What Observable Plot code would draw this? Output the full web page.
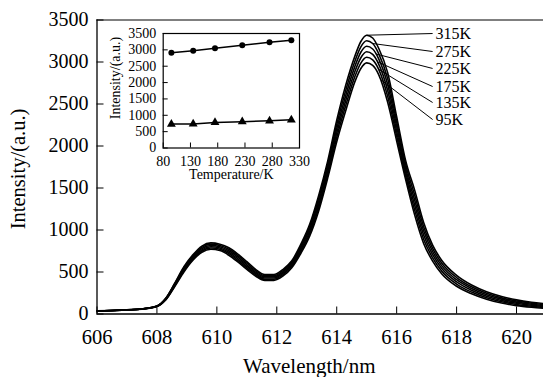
<!DOCTYPE html>
<html><head><meta charset="utf-8">
<script src="https://cdn.jsdelivr.net/npm/d3@7"></script>
<script src="https://cdn.jsdelivr.net/npm/@observablehq/plot@0.6"></script>
<style>
body{margin:0;background:#fff;}
#wrap{position:relative;width:543px;height:377px;background:#fff;overflow:hidden;}
#inset{position:absolute;left:100px;top:20px;}
svg{font-family:"Liberation Serif","Times New Roman",serif;}
</style></head><body><div id="wrap"><div id="main"></div><div id="inset"></div></div>
<script>
// ---- main spectra data ----
const wavelengths = [606,606.5,607,607.5,608,608.3,608.6,608.9,609.2,609.5,609.8,610.1,610.4,610.7,611,611.3,611.6,611.9,612.2,612.5,612.8,613.1,613.4,613.7,614,614.3,614.6,614.8,615,615.2,615.4,615.7,616,616.3,616.6,616.9,617.2,617.5,618,618.5,619,619.5,620,620.5,621];
const s95  = [35,40,48,58,90,170,330,500,640,735,770,755,700,620,530,450,400,400,450,550,720,930,1230,1620,2050,2420,2760,2920,2990,2960,2850,2520,2060,1600,1180,840,630,480,330,240,175,130,100,80,65];
const s135 = [35,40,48,59,91,174,338,513,653,750,785,770,718,639,549,466,414,414,466,567,742,958,1267,1661,2101,2481,2821,2984,3056,3025,2913,2591,2118,1645,1239,890,668,512,356,261,193,146,114,92,76];
const s175 = [36,41,49,59,92,179,347,525,666,764,801,785,735,657,567,482,428,428,482,583,763,986,1304,1701,2153,2541,2881,3048,3122,3090,2975,2661,2175,1690,1298,940,706,544,382,282,211,161,127,104,87];
const s225 = [36,41,49,60,93,183,355,538,678,779,816,800,753,676,586,497,442,442,497,600,785,1014,1341,1742,2204,2602,2942,3113,3187,3155,3038,2732,2233,1734,1357,990,744,576,408,303,229,177,141,116,98];
const s275 = [36,42,50,60,94,187,363,550,691,794,832,815,770,694,604,513,456,456,513,616,806,1042,1378,1782,2255,2662,3003,3177,3253,3220,3100,2802,2291,1779,1416,1040,782,608,434,324,247,192,154,128,109];
const s315 = [37,42,50,61,95,191,371,563,704,809,847,831,788,713,623,529,470,470,529,633,828,1070,1415,1823,2306,2723,3064,3241,3319,3286,3164,2873,2348,1824,1475,1090,820,640,460,345,265,208,168,140,120];
const temps = ["95K","135K","175K","225K","275K","315K"];
const xTicks = [606,608,610,612,614,616,618,620];
const yTicks = [0,500,1000,1500,2000,2500,3000,3500];
// leader lines for temperature labels
const labelStartWl  = [615.45,615.4,615.35,615.3,615.2,615.0];
const labelStartVal = [2795,2913,3004,3096,3220,3319];
const labelEndWl = 617.2;
const labelTextWl = 617.3;
const labelVal = [2315,2518,2708,2923,3125,3339];

// ---- inset data ----
const insetT = [95,135,175,225,275,315];
const insetCircle = [2910,2970,3050,3140,3230,3290];
const insetTriangle = [730,735,780,805,830,860];
const insetXTicks = [80,130,180,230,280,330];
const insetYTicks = [0,500,1000,1500,2000,2500,3000,3500];

const series = [s95,s135,s175,s225,s275,s315];
const rows = [];
temps.forEach((t,j)=>wavelengths.forEach((w,i)=>rows.push({t, w, v: series[j][i]})));

const fmt = d => String(d);
const W = 543, H = 377, ML = 96.5, MR = 0, MT = 19.5, MB = 63.5;
const innerW = W - ML - MR, innerH = H - MT - MB;

const main = Plot.plot({
  width: W, height: H,
  marginLeft: ML, marginRight: MR, marginTop: MT, marginBottom: MB,
  style: {fontFamily: "Liberation Serif, Times New Roman, serif", fontSize: "20px", color: "#000", background: "#fff", overflow: "visible"},
  x: {domain: [606, 620.9]},
  y: {domain: [0, 3500]},
  marks: [
    Plot.line(rows, {x: "w", y: "v", z: "t", stroke: "#000", strokeWidth: 1.6, curve: "monotone-x", clip: true}),
    Plot.ruleY([3500], {stroke: "#000"}),
    Plot.ruleY([0], {stroke: "#000", strokeWidth: 1.3}),
    Plot.ruleX([606], {stroke: "#000", strokeWidth: 1.3}),
    Plot.tickX(xTicks, {x: d => d, insetTop: innerH - 7, stroke: "#000"}),
    Plot.tickY(yTicks, {y: d => d, insetRight: innerW - 7, stroke: "#000"}),
    Plot.axisX(xTicks, {tickSize: 0, tickPadding: 15, label: null, fontSize: 20.5, tickFormat: fmt}),
    Plot.axisY(yTicks, {tickSize: 0, tickPadding: 8.5, label: null, fontSize: 20, tickFormat: fmt}),
    Plot.text(["Wavelength/nm"], {frameAnchor: "bottom", dx: -11, dy: 52.5, lineAnchor: "middle", fontSize: 21, text: d => d}),
    Plot.text(["Intensity/(a.u.)"], {frameAnchor: "left", textAnchor: "middle", rotate: -90, dx: -78.5, dy: 2, lineAnchor: "middle", fontSize: 20.5, text: d => d}),
    Plot.link(temps, {x1: (d,i) => labelStartWl[i], y1: (d,i) => labelStartVal[i], x2: () => labelEndWl, y2: (d,i) => labelVal[i], stroke: "#000", strokeWidth: 1}),
    Plot.text(temps, {x: () => labelTextWl, y: (d,i) => labelVal[i], text: d => d, textAnchor: "start", fontSize: 16})
  ]
});
document.getElementById("main").appendChild(main);

const circ = insetT.map((t,i) => ({t, v: insetCircle[i]}));
const tri = insetT.map((t,i) => ({t, v: insetTriangle[i]}));
const IW = 210, IH = 170, IML = 62.7, IMR = 11, IMT = 13, IMB = 42.5;
const iInnerW = IW - IML - IMR, iInnerH = IH - IMT - IMB;
const inset = Plot.plot({
  width: IW, height: IH,
  marginLeft: IML, marginRight: IMR, marginTop: IMT, marginBottom: IMB,
  style: {fontFamily: "Liberation Serif, Times New Roman, serif", fontSize: "14px", color: "#000", background: "transparent", overflow: "visible"},
  x: {domain: [80, 330]},
  y: {domain: [0, 3500]},
  marks: [
    Plot.frame({stroke: "#000", strokeWidth: 1.2}),
    Plot.tickX(insetXTicks, {x: d => d, insetTop: iInnerH - 5, stroke: "#000"}),
    Plot.tickY(insetYTicks, {y: d => d, insetRight: iInnerW - 5, stroke: "#000"}),
    Plot.axisX(insetXTicks, {tickSize: 0, tickPadding: 8, label: null, fontSize: 14, tickFormat: fmt}),
    Plot.axisY(insetYTicks, {tickSize: 0, tickPadding: 7, label: null, fontSize: 14, tickFormat: fmt}),
    Plot.line(circ, {x: "t", y: "v", stroke: "#000", strokeWidth: 1.5}),
    Plot.dot(circ, {x: "t", y: "v", r: 3, fill: "#000", symbol: "circle"}),
    Plot.line(tri, {x: "t", y: "v", stroke: "#000", strokeWidth: 1.5}),
    Plot.dot(tri, {x: "t", y: "v", r: 3.3, fill: "#000", symbol: "triangle"}),
    Plot.text(["Temperature/K"], {frameAnchor: "bottom", dy: 27, lineAnchor: "middle", fontSize: 14, text: d => d}),
    Plot.text(["Intensity/(a.u.)"], {frameAnchor: "left", textAnchor: "middle", rotate: -90, dx: -47.7, dy: -12.7, lineAnchor: "middle", fontSize: 14, text: d => d})
  ]
});
document.getElementById("inset").appendChild(inset);
</script></body></html>
